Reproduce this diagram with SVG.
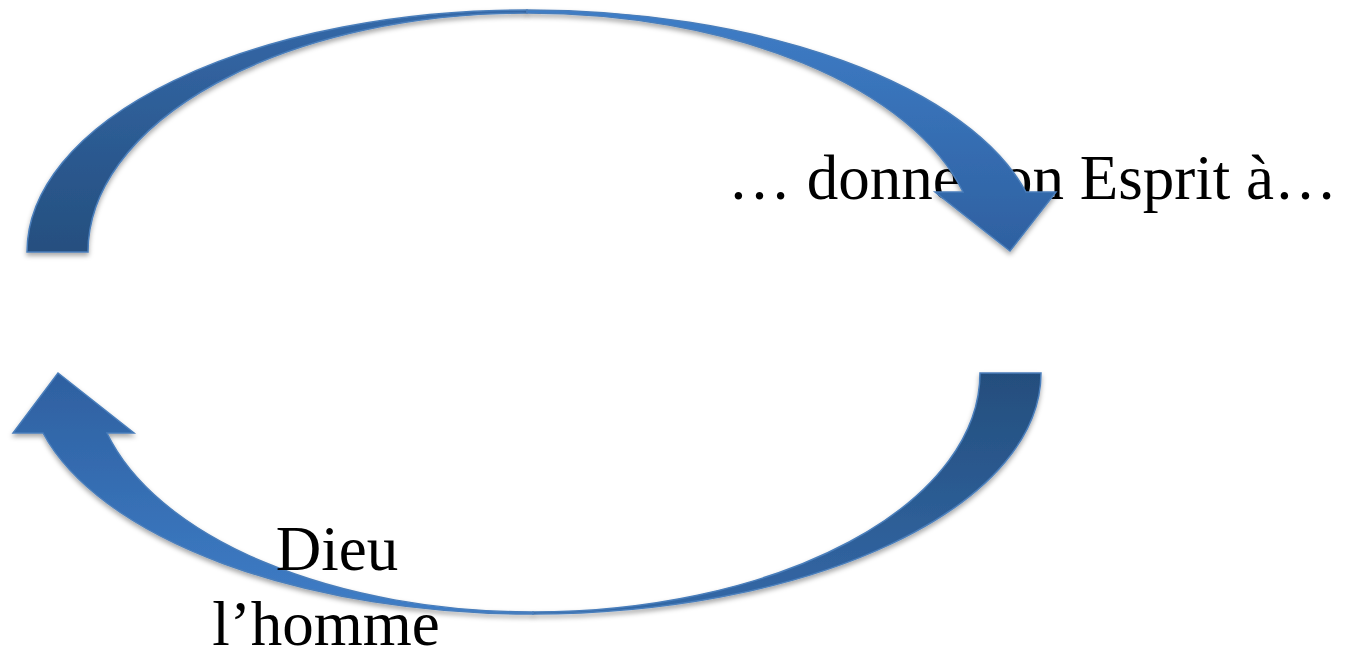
<svg xmlns="http://www.w3.org/2000/svg" width="1354" height="647" viewBox="0 0 1354 647">
  <style>
    .lbl { font-family: "Liberation Serif", "Times New Roman", serif; font-size: 63px; fill: #000000; }
    .arr { stroke: #4a7ebb; stroke-width: 1.5; stroke-linejoin: miter; filter: url(#shadow); }
  </style>
  <defs>
    <filter id="shadow" x="-10%" y="-10%" width="120%" height="130%">
      <feDropShadow dx="0" dy="3" stdDeviation="2.5" flood-color="#000000" flood-opacity="0.35"/>
    </filter>
    <linearGradient id="gTopBack" gradientUnits="userSpaceOnUse" x1="0" y1="10" x2="0" y2="252">
      <stop offset="0" stop-color="#3468a8"/>
      <stop offset="1" stop-color="#254f7f"/>
    </linearGradient>
    <linearGradient id="gTopFront" gradientUnits="userSpaceOnUse" x1="0" y1="10" x2="0" y2="252">
      <stop offset="0" stop-color="#3e7dc7"/>
      <stop offset="1" stop-color="#2e60a0"/>
    </linearGradient>
    <linearGradient id="gBotBack" gradientUnits="userSpaceOnUse" x1="0" y1="373" x2="0" y2="614">
      <stop offset="0" stop-color="#244e7d"/>
      <stop offset="1" stop-color="#3368a7"/>
    </linearGradient>
    <linearGradient id="gBotFront" gradientUnits="userSpaceOnUse" x1="0" y1="614" x2="0" y2="373">
      <stop offset="0" stop-color="#3e7dc7"/>
      <stop offset="1" stop-color="#2e60a0"/>
    </linearGradient>
  </defs>

  <g id="node-donne">
    <text class="lbl" x="728" y="199">… donne son Esprit à…</text>
  </g>

  <g id="connectors">
    <g id="arrow-top">
      <path class="arr" fill="url(#gTopBack)" d="M 27,252 A 500 242 0 0 1 527,10 L 527,13 A 439 239 0 0 0 88,252 Z"/>
      <path class="arr" fill="url(#gTopFront)" d="M 527,10 A 515 242 0 0 1 1026,192 L 1056,192 L 1010,251 L 935,192 L 963,192 A 450 239 0 0 0 527,13 Z"/>
    </g>
    <g id="arrow-bottom">
      <path class="arr" fill="url(#gBotBack)" d="M 980,373 A 447 239 0 0 1 533,612 L 533,614 A 508 241 0 0 0 1041,373 Z"/>
      <path class="arr" fill="url(#gBotFront)" d="M 533,614 A 506 241 0 0 1 43,433 L 13,433 L 58,373 L 134,433 L 107,433 A 440 239 0 0 0 533,612 Z"/>
    </g>
  </g>

  <g id="node-dieu">
    <text class="lbl" x="337" y="570" text-anchor="middle">Dieu</text>
  </g>
  <g id="node-homme">
    <text class="lbl" x="326" y="645" text-anchor="middle">l’homme</text>
  </g>
</svg>
